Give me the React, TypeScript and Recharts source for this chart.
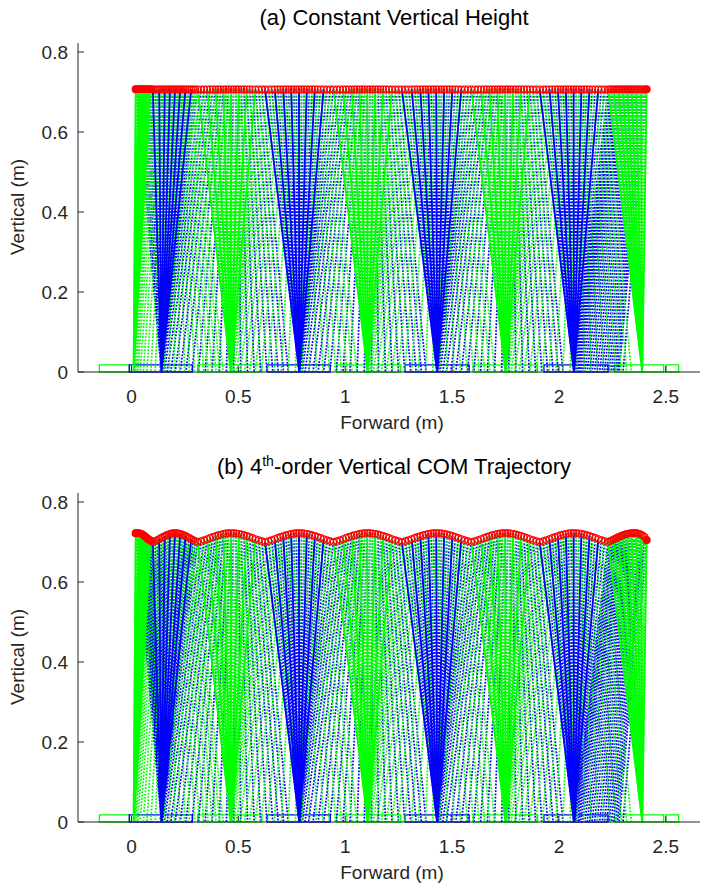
import React from 'react';
import { ComposedChart, Line, Scatter, XAxis, YAxis, ReferenceArea } from 'recharts';

const BLUE = '#0000ff';
const GREEN = '#00ff00';
const RED = '#ff0000';
const AXIS = '#262626';
const FONT = '"Liberation Sans", Arial, Helvetica, sans-serif';

// footholds in walking order and the leg standing on each (g = green, b = blue)
const stanceFoot = [0.01, 0.14, 0.465, 0.785, 1.105, 1.43, 1.75, 2.07, 2.39];
const stanceLeg = ['g', 'b', 'g', 'b', 'g', 'b', 'g', 'b', 'g'];
// swing foot travel during each stance phase
const swingFrom = [0.14, 0.01, 0.14, 0.465, 0.785, 1.105, 1.43, 1.75, 2.07];
const swingTo = [0.14, 0.465, 0.785, 1.105, 1.43, 1.75, 2.07, 2.39, 2.3];
// COM forward position when each stance phase begins, and where the walk stops
const phaseStart = [0.02, 0.1, 0.31, 0.625, 0.945, 1.265, 1.59, 1.91, 2.23];
const comEnd = 2.41;

// sample spacing inside one phase (fraction of the phase)
const stepProgress = [0, 0.05, 0.097, 0.142, 0.185, 0.226, 0.266, 0.305, 0.344, 0.382, 0.42, 0.458, 0.496, 0.534, 0.572, 0.61, 0.649, 0.688, 0.728, 0.769, 0.812, 0.857, 0.904, 0.952];
const swingProgress = [0, 0.008, 0.022, 0.042, 0.068, 0.1, 0.137, 0.178, 0.222, 0.269, 0.318, 0.368, 0.42, 0.472, 0.524, 0.575, 0.625, 0.673, 0.72, 0.765, 0.808, 0.848, 0.886, 0.92];
// stance leg is drawn solid every few samples
const solidEvery = 3;

// COM heights
const heightA = 0.707;
const heightBStart = [0.722, 0.7222, 0.7223, 0.7222, 0.722, 0.7217, 0.7213, 0.7207, 0.72, 0.7191, 0.7181, 0.717, 0.7158, 0.7145, 0.7131, 0.7117, 0.7102, 0.7088, 0.7074, 0.7061, 0.705, 0.704, 0.7022, 0.7008];
const heightBStep = [0.7, 0.7024, 0.705, 0.7076, 0.7102, 0.7127, 0.715, 0.7171, 0.7189, 0.7204, 0.7215, 0.7222, 0.7225, 0.7223, 0.7217, 0.7207, 0.7192, 0.7174, 0.7153, 0.713, 0.7104, 0.7076, 0.7049, 0.7024];
const heightBEnd = [0.7, 0.7022, 0.7043, 0.7064, 0.7084, 0.7103, 0.7121, 0.7138, 0.7154, 0.7169, 0.7183, 0.7195, 0.7205, 0.7213, 0.722, 0.7224, 0.7226, 0.7226, 0.7223, 0.7216, 0.7204, 0.7186, 0.716, 0.7125];
const heightBFinal = 0.705;

// feet outlines on the ground
const footRects = [
  { x1: -0.15, x2: -0.01, leg: 'g' },
  { x1: -0.01, x2: 0.285, leg: 'b' },
  { x1: 0.31, x2: 0.61, leg: 'g' },
  { x1: 0.635, x2: 0.93, leg: 'b' },
  { x1: 0.96, x2: 1.26, leg: 'g' },
  { x1: 1.28, x2: 1.58, leg: 'b' },
  { x1: 1.6, x2: 1.9, leg: 'g' },
  { x1: 1.93, x2: 2.23, leg: 'b' },
  { x1: 2.26, x2: 2.49, leg: 'g' },
  { x1: 2.5, x2: 2.56, leg: 'g' },
];
const footHeight = 0.018;

const xTicks = [0, 0.5, 1, 1.5, 2, 2.5];
const yTicks = [0, 0.2, 0.4, 0.6, 0.8];

type Pt = { x: number; y: number | null };

function buildWalk(heightAt: (phase: number, k: number) => number, finalHeight: number) {
  const legs: Record<string, Pt[]> = { bSolid: [], bDot: [], gSolid: [], gDot: [] };
  const com: { x: number; y: number }[] = [];
  const seg = (arr: Pt[], cx: number, cy: number, fx: number) => {
    arr.push({ x: cx, y: cy }, { x: fx, y: 0 }, { x: fx, y: null });
  };
  const addLegs = (cx: number, cy: number, i: number, sw: number, withSolid: boolean) => {
    const st = stanceLeg[i];
    const other = st === 'g' ? 'b' : 'g';
    seg(legs[st + 'Dot'], cx, cy, stanceFoot[i]);
    seg(legs[other + 'Dot'], cx, cy, sw);
    if (withSolid) seg(legs[st + 'Solid'], cx, cy, stanceFoot[i]);
  };
  phaseStart.forEach((start, i) => {
    const end = i + 1 < phaseStart.length ? phaseStart[i + 1] : comEnd;
    stepProgress.forEach((p, k) => {
      const cx = start + p * (end - start);
      const cy = heightAt(i, k);
      com.push({ x: cx, y: cy });
      addLegs(cx, cy, i, swingFrom[i] + swingProgress[k] * (swingTo[i] - swingFrom[i]), k % solidEvery === 0);
    });
  });
  const last = phaseStart.length - 1;
  com.push({ x: comEnd, y: finalHeight });
  addLegs(comEnd, finalHeight, last, swingTo[last], true);
  return { legs, com };
}

const walkA = buildWalk(() => heightA, heightA);
const walkB = buildWalk((i, k) => {
  if (i === 0) return heightBStart[k];
  if (i === phaseStart.length - 1) return heightBEnd[k];
  return heightBStep[k];
}, heightBFinal);

const XTick = (props: any) => {
  const { x, y, payload } = props;
  return (
    <g>
      <line x1={x} x2={x} y1={y} y2={y - 6} stroke={AXIS} strokeWidth={1} />
      <text x={x} y={y + 31} textAnchor="middle" fontSize={19} fill={AXIS} fontFamily={FONT}>
        {String(payload.value)}
      </text>
    </g>
  );
};

const YTick = (props: any) => {
  const { x, y, payload } = props;
  return (
    <g>
      <line x1={x} x2={x + 6} y1={y} y2={y} stroke={AXIS} strokeWidth={1} />
      <text x={x - 10} y={y + 7} textAnchor="end" fontSize={19} fill={AXIS} fontFamily={FONT}>
        {String(payload.value)}
      </text>
    </g>
  );
};

const ComCircle = (props: any) => (
  <circle cx={props.cx} cy={props.cy} r={3.2} fill="none" stroke={RED} strokeWidth={1.2} />
);
const ComEndDot = (props: any) => <circle cx={props.cx} cy={props.cy} r={4} fill={RED} />;

const WalkPlot = ({ walk }: { walk: ReturnType<typeof buildWalk> }) => {
  const ends = [walk.com[0], walk.com[walk.com.length - 1]];
  const dotted = { strokeWidth: 1.7, strokeDasharray: '1.8 1.5', dot: false, isAnimationActive: false, type: 'linear' as const };
  const solid = { strokeWidth: 1.8, dot: false, isAnimationActive: false, type: 'linear' as const };
  return (
    <ComposedChart width={712} height={443} margin={{ top: 43, right: 12, left: 0, bottom: 41 }}>
      <XAxis
        type="number"
        dataKey="x"
        domain={[-0.25, 2.66]}
        ticks={xTicks}
        interval={0}
        allowDataOverflow
        height={30}
        tickSize={0}
        tickMargin={0}
        tickLine={false}
        tick={<XTick />}
        axisLine={{ stroke: AXIS, strokeWidth: 1 }}
      />
      <YAxis
        type="number"
        dataKey="y"
        domain={[0, 0.8225]}
        ticks={yTicks}
        interval={0}
        allowDataOverflow
        width={78}
        tickSize={0}
        tickMargin={0}
        tickLine={false}
        tick={<YTick />}
        axisLine={{ stroke: AXIS, strokeWidth: 1 }}
      />
      <Line data={walk.legs.bDot} dataKey="y" stroke={BLUE} {...dotted} />
      <Line data={walk.legs.gDot} dataKey="y" stroke={GREEN} {...dotted} />
      <Line data={walk.legs.bSolid} dataKey="y" stroke={BLUE} {...solid} />
      <Line data={walk.legs.gSolid} dataKey="y" stroke={GREEN} {...solid} />
      {footRects.map((r, i) => (
        <ReferenceArea
          key={i}
          x1={r.x1}
          x2={r.x2}
          y1={0}
          y2={footHeight}
          fill="none"
          fillOpacity={0}
          stroke={r.leg === 'g' ? GREEN : BLUE}
          strokeWidth={1.3}
          strokeOpacity={1}
          ifOverflow="visible"
        />
      ))}
      <Scatter data={walk.com} dataKey="y" shape={<ComCircle />} isAnimationActive={false} />
      <Scatter data={ends} dataKey="y" shape={<ComEndDot />} isAnimationActive={false} />
    </ComposedChart>
  );
};

const textStyle = { fontFamily: FONT, fill: '#000' };

export default function App() {
  return (
    <div style={{ position: 'absolute', left: 0, top: 0, width: 712, height: 887, background: '#fff' }}>
      <div style={{ position: 'absolute', left: 0, top: 0 }}>
        <WalkPlot walk={walkA} />
      </div>
      <div style={{ position: 'absolute', left: 0, top: 450 }}>
        <WalkPlot walk={walkB} />
      </div>
      <svg width={712} height={887} style={{ position: 'absolute', left: 0, top: 0, pointerEvents: 'none' }}>
        <text x={394} y={25} textAnchor="middle" fontSize={22} {...textStyle}>
          (a) Constant Vertical Height
        </text>
        <text x={392} y={429} textAnchor="middle" fontSize={19} fill={AXIS} fontFamily={FONT}>
          Forward (m)
        </text>
        <text x={24} y={207} textAnchor="middle" fontSize={19} fill={AXIS} fontFamily={FONT} transform="rotate(-90 24 207)">
          Vertical (m)
        </text>
        <text x={394} y={474} textAnchor="middle" fontSize={22} {...textStyle}>
          (b) 4<tspan dy={-8} fontSize={14}>th</tspan>
          <tspan dy={8}>-order Vertical COM Trajectory</tspan>
        </text>
        <text x={392} y={879} textAnchor="middle" fontSize={19} fill={AXIS} fontFamily={FONT}>
          Forward (m)
        </text>
        <text x={24} y={657} textAnchor="middle" fontSize={19} fill={AXIS} fontFamily={FONT} transform="rotate(-90 24 657)">
          Vertical (m)
        </text>
      </svg>
    </div>
  );
}
